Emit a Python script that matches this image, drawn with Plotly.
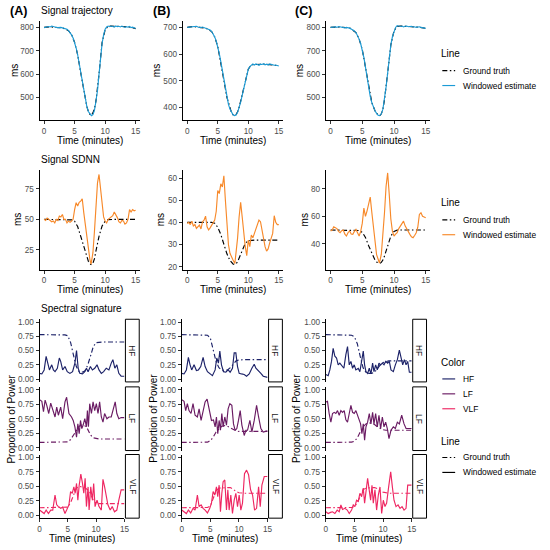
import numpy as np
import plotly.graph_objects as go

# ---------------- data ----------------
TIME_TICKS = [0, 5, 10, 15]
COLUMNS = ["(A)", "(B)", "(C)"]
BANDS = ["HF", "LF", "VLF"]

# Signal trajectory (ms)
T_EST = np.arange(0, 15.001, 0.25)
TRAJ_A_EST = [799, 801, 800, 804, 802, 806, 804, 801, 800, 799, 801, 800, 798, 797, 795, 792,
              786, 778, 768, 755, 736, 712, 683, 648, 606, 566, 527, 493, 462, 440, 428, 422,
              426, 445, 485, 530, 600, 670, 730, 768, 792, 802, 806, 803, 806, 804, 801, 806,
              803, 805, 802, 806, 804, 800, 803, 801, 804, 799, 801, 797, 795]
TRAJ_B_EST = [700, 701, 700, 703, 702, 705, 704, 701, 700, 699, 701, 699, 697, 696, 694, 690,
              684, 676, 664, 648, 628, 602, 572, 538, 502, 468, 438, 412, 394, 381, 373, 370,
              372, 382, 398, 420, 445, 472, 500, 525, 543, 553, 560, 563, 559, 563, 561, 558,
              562, 561, 564, 560, 562, 559, 563, 561, 560, 558, 559, 556, 555]
TRAJ_C_EST = [800, 799, 801, 803, 800, 804, 802, 800, 801, 798, 800, 799, 797, 793, 790, 785,
              778, 765, 750, 730, 705, 672, 630, 585, 540, 505, 478, 458, 443, 432, 424, 422,
              430, 450, 490, 545, 605, 670, 725, 760, 786, 800, 808, 805, 804, 806, 802, 805,
              806, 803, 804, 805, 802, 803, 800, 801, 803, 800, 799, 797, 796]

T_TRUTH = [0, 1, 2, 3, 4, 4.5, 5, 5.5, 6, 6.5, 7, 7.25, 7.5, 7.75, 8, 8.25, 8.5, 9, 9.5, 10,
           10.5, 11, 12, 13, 14, 15]
TRAJ_A_TRUE = [800, 803, 800, 798, 786, 769, 736, 683, 606, 527, 462, 440, 428, 424, 434, 452,
               485, 600, 735, 790, 805, 806, 805, 805, 802, 795]
TRAJ_B_TRUE = [700, 703, 700, 697, 684, 664, 628, 572, 502, 438, 394, 381, 373, 370, 374, 384,
               400, 445, 500, 543, 560, 561, 562, 562, 560, 556]
TRAJ_C_TRUE = [800, 802, 800, 798, 778, 750, 705, 630, 540, 478, 443, 432, 424, 422, 430, 450,
               490, 605, 725, 786, 804, 806, 805, 803, 801, 796]

# Signal SDNN (ms)
SDNN_A_TRUE = [50, 50, 50, 50, 50, 49.5, 48.5, 44, 36, 27, 19, 15.5, 13.3, 12.6, 13.8, 17.5,
               24, 36, 44.5, 48.5, 49.8, 50, 50, 50, 50, 50]
SDNN_B_TRUE = [40, 40, 40, 40, 40, 39.6, 37.8, 34.5, 30, 25.8, 22.8, 21.8, 21.2, 21.0, 21.3,
               22.2, 23.8, 27.5, 30.5, 31.7, 32, 32, 32, 32, 32, 32]
SDNN_C_TRUE = [50, 50, 50, 50, 50, 49.6, 48.3, 44.5, 38.5, 32.5, 28, 26.6, 25.8, 25.6, 26.3, 28,
               31, 39, 45.5, 49, 49.9, 50, 50, 50, 50, 50]

SDNN_A_EST = [(0, 50), (0.25, 49), (0.5, 51), (0.75, 50), (1, 49), (1.25, 48), (1.5, 48.6),
              (1.75, 47), (2, 50), (2.25, 49), (2.5, 52.7), (2.75, 52), (3, 54), (3.25, 50),
              (3.5, 50), (3.75, 47), (4, 48.6), (4.25, 47.5), (4.5, 48.6), (4.75, 50), (5, 58),
              (5.25, 63.7), (5.5, 61), (5.75, 64), (6, 65), (6.25, 67), (6.5, 55.5), (6.75, 45),
              (7, 33.5), (7.25, 24), (7.5, 17), (7.7, 13), (8, 22.5), (8.25, 40), (8.5, 61),
              (8.75, 80), (9, 87), (9.25, 74), (9.5, 61), (9.75, 52), (10, 48.6), (10.25, 47),
              (10.5, 50), (10.75, 51), (11, 51.4), (11.25, 53), (11.5, 56), (11.75, 54),
              (12, 51.4), (12.25, 48), (12.5, 47), (12.75, 49), (13, 48.6), (13.25, 46),
              (13.5, 47), (13.75, 50), (14, 58), (14.25, 56), (14.5, 58), (14.75, 57), (15, 57.5)]
SDNN_B_EST = [(0, 39.5), (0.25, 40), (0.5, 39), (0.75, 40.5), (1, 38.4), (1.25, 39), (1.5, 37.3),
              (1.75, 38), (2, 38.8), (2.25, 37), (2.5, 40.3), (2.75, 41), (3, 42.8), (3.25, 38),
              (3.5, 36.6), (3.75, 37.5), (4, 38.8), (4.25, 40), (4.5, 41), (4.75, 45), (5, 54.4),
              (5.25, 53), (5.5, 57.4), (5.75, 56), (6, 61), (6.25, 50), (6.5, 38), (6.75, 30),
              (7, 26), (7.25, 24), (7.5, 23), (7.8, 21.4), (8, 26), (8.25, 33), (8.5, 42.5),
              (8.75, 49), (9, 42.5), (9.25, 35), (9.5, 29), (9.75, 25), (10, 32), (10.25, 29),
              (10.5, 34.3), (10.75, 33), (11, 35), (11.25, 37), (11.5, 39.5), (11.75, 41),
              (12, 40.3), (12.25, 36), (12.5, 32), (12.75, 29), (13, 27), (13.25, 28),
              (13.5, 30.6), (13.75, 33), (14, 35), (14.25, 43), (14.5, 40), (14.75, 39), (15, 39)]
SDNN_C_EST = [(0, 49.3), (0.25, 50), (0.5, 52.4), (0.75, 51.5), (1, 51), (1.25, 49), (1.5, 48),
              (1.75, 49.5), (2, 50), (2.25, 47), (2.5, 45.6), (2.75, 48), (3, 49.3), (3.25, 47),
              (3.5, 46.8), (3.75, 49), (4, 50.5), (4.25, 48), (4.5, 45.6), (4.75, 49), (5, 55),
              (5.25, 66), (5.5, 60), (5.75, 64), (6, 68.6), (6.25, 74), (6.5, 63), (6.75, 52),
              (7, 38), (7.25, 32), (7.5, 28.6), (7.7, 25.8), (8, 32.3), (8.25, 45), (8.5, 62.6),
              (8.75, 82), (9, 91.7), (9.25, 76), (9.5, 58), (9.75, 49), (10, 45.6), (10.25, 47),
              (10.5, 48), (10.75, 51), (11, 53), (11.25, 55), (11.5, 56.5), (11.75, 53),
              (12, 50.5), (12.25, 48), (12.5, 46.8), (12.75, 45), (13, 44.4), (13.25, 46),
              (13.5, 48), (13.75, 52), (14, 61.4), (14.25, 62.6), (14.5, 60), (14.75, 59.5), (15, 59)]

# Spectral signature (proportion of power)
T_SPEC_TRUE = [0, 1, 2, 3, 4, 4.5, 5, 5.5, 6, 6.5, 7, 7.5, 8, 8.5, 9, 9.5, 10, 10.5, 11, 12, 13, 14, 15]
HF_A_TRUE = [0.78, 0.78, 0.78, 0.78, 0.78, 0.775, 0.76, 0.64, 0.42, 0.22, 0.13, 0.12, 0.14, 0.24,
             0.40, 0.57, 0.64, 0.65, 0.65, 0.65, 0.65, 0.65, 0.65]
LF_A_TRUE = [0.09, 0.09, 0.09, 0.09, 0.09, 0.095, 0.10, 0.14, 0.22, 0.31, 0.37, 0.39, 0.38, 0.32,
             0.22, 0.17, 0.155, 0.15, 0.15, 0.15, 0.15, 0.15, 0.15]
VLF_A_TRUE = [0.13, 0.13, 0.13, 0.13, 0.13, 0.13, 0.14, 0.22, 0.36, 0.47, 0.50, 0.49, 0.48, 0.44,
              0.38, 0.26, 0.205, 0.20, 0.20, 0.20, 0.20, 0.20, 0.20]
HF_B_TRUE = [0.78, 0.78, 0.78, 0.78, 0.78, 0.77, 0.72, 0.52, 0.31, 0.20, 0.16, 0.15, 0.16, 0.20,
             0.27, 0.32, 0.335, 0.34, 0.34, 0.34, 0.34, 0.34, 0.34]
LF_B_TRUE = [0.09, 0.09, 0.09, 0.09, 0.09, 0.095, 0.12, 0.18, 0.27, 0.33, 0.37, 0.38, 0.37, 0.34,
             0.31, 0.29, 0.28, 0.28, 0.28, 0.28, 0.28, 0.28, 0.28]
VLF_B_TRUE = [0.13, 0.13, 0.13, 0.13, 0.13, 0.135, 0.16, 0.30, 0.42, 0.47, 0.47, 0.47, 0.48, 0.48,
              0.45, 0.41, 0.39, 0.38, 0.38, 0.38, 0.38, 0.38, 0.38]
HF_C_TRUE = [0.78, 0.78, 0.78, 0.78, 0.78, 0.77, 0.74, 0.62, 0.40, 0.20, 0.12, 0.10, 0.10, 0.12,
             0.18, 0.25, 0.29, 0.31, 0.32, 0.32, 0.32, 0.32, 0.32]
LF_C_TRUE = [0.09, 0.09, 0.09, 0.09, 0.09, 0.095, 0.11, 0.17, 0.27, 0.36, 0.41, 0.43, 0.42, 0.40,
             0.36, 0.33, 0.31, 0.30, 0.30, 0.30, 0.30, 0.30, 0.30]
VLF_C_TRUE = [0.13, 0.13, 0.13, 0.13, 0.13, 0.135, 0.15, 0.21, 0.33, 0.44, 0.47, 0.47, 0.48, 0.48,
              0.46, 0.42, 0.40, 0.39, 0.38, 0.38, 0.38, 0.38, 0.38]

HF_A_EST = [(0, 0.10), (0.41, 0.09), (0.82, 0.16), (1.17, 0.40), (1.46, 0.28), (1.75, 0.16),
            (2.16, 0.25), (2.45, 0.16), (2.74, 0.13), (3.15, 0.19), (3.5, 0.37), (3.74, 0.31),
            (4.09, 0.16), (4.5, 0.22), (4.9, 0.13), (5.37, 0.10), (5.84, 0.13), (6.25, 0.28),
            (6.54, 0.50), (6.83, 0.19), (7.12, 0.10), (7.59, 0.09), (8.0, 0.13), (8.29, 0.19),
            (8.58, 0.13), (8.99, 0.22), (9.34, 0.16), (9.75, 0.19), (10.16, 0.25), (10.51, 0.16),
            (10.92, 0.10), (11.33, 0.13), (11.79, 0.19), (12.26, 0.16), (12.67, 0.28),
            (12.96, 0.34), (13.31, 0.19), (13.66, 0.25), (14.01, 0.10), (14.42, 0.05), (15, 0.05)]
LF_A_EST = [(0, 0.83), (0.41, 0.80), (0.7, 0.62), (0.99, 0.82), (1.28, 0.73), (1.63, 0.59),
            (1.98, 0.77), (2.34, 0.64), (2.74, 0.53), (3.04, 0.70), (3.33, 0.56), (3.74, 0.70),
            (4.09, 0.50), (4.5, 0.79), (4.79, 0.87), (5.2, 0.59), (5.66, 0.53), (5.95, 0.47),
            (6.25, 0.36), (6.54, 0.18), (6.77, 0.41), (7.01, 0.24), (7.24, 0.47), (7.47, 0.33),
            (7.71, 0.39), (8.0, 0.50), (8.29, 0.36), (8.46, 0.64), (8.64, 0.36), (8.87, 0.76),
            (9.17, 0.59), (9.46, 0.79), (9.75, 0.64), (10.04, 0.76), (10.33, 0.59), (10.62, 0.79),
            (10.92, 0.53), (11.21, 0.44), (11.5, 0.59), (11.91, 0.50), (12.26, 0.53),
            (12.67, 0.53), (13.08, 0.67), (13.37, 0.79), (13.66, 0.59), (14.01, 0.50),
            (14.42, 0.52), (15, 0.52)]
VLF_A_EST = [(0, 0.09), (0.41, 0.06), (0.82, 0.03), (1.17, 0.09), (1.58, 0.03), (1.98, 0.09),
             (2.34, 0.09), (2.74, 0.35), (3.04, 0.18), (3.33, 0.15), (3.74, 0.12), (4.09, 0.14),
             (4.5, 0.03), (4.79, 0.09), (5.2, 0.18), (5.49, 0.41), (5.78, 0.38), (6.07, 0.49),
             (6.3, 0.38), (6.54, 0.55), (6.77, 0.26), (7.01, 0.52), (7.3, 0.71), (7.59, 0.55),
             (7.82, 0.38), (8.06, 0.64), (8.29, 0.15), (8.58, 0.49), (8.76, 0.09), (9.05, 0.49),
             (9.34, 0.26), (9.57, 0.55), (9.81, 0.15), (10.16, 0.26), (10.51, 0.15), (10.92, 0.09),
             (11.21, 0.62), (11.5, 0.49), (11.79, 0.32), (12.08, 0.18), (12.49, 0.09),
             (12.84, 0.15), (13.25, 0.06), (13.66, 0.09), (14.01, 0.26), (14.42, 0.44), (15, 0.44)]
HF_B_EST = [(0, 0.10), (0.41, 0.09), (0.82, 0.16), (1.17, 0.38), (1.46, 0.25), (1.75, 0.16),
            (2.16, 0.25), (2.57, 0.15), (2.92, 0.16), (3.33, 0.22), (3.74, 0.38), (4.09, 0.22),
            (4.5, 0.13), (4.9, 0.10), (5.37, 0.06), (5.84, 0.16), (6.13, 0.37), (6.42, 0.28),
            (6.66, 0.49), (6.95, 0.25), (7.3, 0.13), (7.71, 0.12), (8.11, 0.16), (8.46, 0.12),
            (8.87, 0.19), (9.17, 0.46), (9.46, 0.46), (9.75, 0.22), (10.04, 0.10), (10.45, 0.09),
            (10.92, 0.08), (11.33, 0.05), (11.79, 0.09), (12.26, 0.19), (12.67, 0.26),
            (12.96, 0.19), (13.43, 0.15), (13.83, 0.10), (14.24, 0.05), (15, 0.03)]
LF_B_EST = [(0, 0.83), (0.41, 0.80), (0.7, 0.64), (0.99, 0.76), (1.28, 0.64), (1.63, 0.59),
            (1.98, 0.76), (2.34, 0.56), (2.74, 0.53), (3.04, 0.67), (3.39, 0.47), (3.74, 0.64),
            (4.09, 0.79), (4.44, 0.84), (4.79, 0.64), (5.2, 0.47), (5.55, 0.48), (5.84, 0.36),
            (6.07, 0.53), (6.3, 0.24), (6.54, 0.47), (6.77, 0.30), (7.01, 0.59), (7.24, 0.36),
            (7.53, 0.53), (7.82, 0.39), (8.11, 0.67), (8.41, 0.76), (8.76, 0.73), (9.05, 0.41),
            (9.34, 0.30), (9.63, 0.33), (9.92, 0.47), (10.22, 0.64), (10.51, 0.39), (10.92, 0.21),
            (11.21, 0.30), (11.5, 0.30), (11.91, 0.47), (12.26, 0.27), (12.67, 0.47),
            (13.08, 0.73), (13.43, 0.53), (13.83, 0.33), (14.24, 0.27), (15, 0.29)]
VLF_B_EST = [(0, 0.09), (0.41, 0.06), (0.82, 0.03), (1.17, 0.09), (1.58, 0.04), (1.98, 0.12),
             (2.34, 0.09), (2.74, 0.35), (3.04, 0.15), (3.39, 0.18), (3.74, 0.12), (4.09, 0.09),
             (4.5, 0.04), (4.9, 0.12), (5.2, 0.21), (5.49, 0.41), (5.78, 0.35), (6.07, 0.49),
             (6.3, 0.32), (6.54, 0.52), (6.77, 0.06), (7.01, 0.38), (7.24, 0.58), (7.53, 0.61),
             (7.82, 0.09), (8.06, 0.44), (8.29, 0.09), (8.58, 0.35), (8.87, 0.03), (9.17, 0.26),
             (9.46, 0.38), (9.75, 0.15), (10.04, 0.35), (10.33, 0.09), (10.62, 0.21),
             (10.97, 0.72), (11.33, 0.78), (11.68, 0.70), (12.03, 0.44), (12.38, 0.35),
             (12.73, 0.09), (13.08, 0.12), (13.43, 0.49), (13.72, 0.15), (14.01, 0.52),
             (14.42, 0.67), (15, 0.67)]
HF_C_EST = [(0, 0.08), (0.41, 0.06), (0.7, 0.16), (0.99, 0.31), (1.28, 0.54), (1.58, 0.40),
            (1.87, 0.37), (2.16, 0.25), (2.45, 0.28), (2.74, 0.25), (3.15, 0.19), (3.5, 0.43),
            (3.79, 0.57), (4.09, 0.25), (4.38, 0.31), (4.67, 0.19), (4.96, 0.25), (5.25, 0.16),
            (5.66, 0.19), (5.95, 0.13), (6.25, 0.31), (6.54, 0.49), (6.77, 0.25), (7.01, 0.13),
            (7.3, 0.10), (7.59, 0.19), (7.88, 0.09), (8.17, 0.28), (8.41, 0.13), (8.7, 0.25),
            (8.99, 0.16), (9.28, 0.28), (9.57, 0.25), (9.87, 0.28), (10.16, 0.25), (10.45, 0.31),
            (10.8, 0.28), (11.09, 0.31), (11.38, 0.16), (11.79, 0.13), (12.14, 0.25),
            (12.49, 0.34), (12.84, 0.51), (13.13, 0.40), (13.43, 0.25), (13.72, 0.34),
            (14.01, 0.25), (14.3, 0.31), (14.59, 0.12), (15, 0.12)]
LF_C_EST = [(0, 0.79), (0.29, 0.80), (0.58, 0.59), (0.88, 0.44), (1.17, 0.59), (1.46, 0.61),
            (1.75, 0.59), (2.04, 0.64), (2.34, 0.56), (2.63, 0.64), (2.92, 0.61), (3.21, 0.64),
            (3.5, 0.48), (3.79, 0.44), (4.09, 0.59), (4.38, 0.73), (4.67, 0.61), (4.96, 0.59),
            (5.25, 0.64), (5.55, 0.56), (5.84, 0.47), (6.07, 0.41), (6.3, 0.24), (6.54, 0.41),
            (6.77, 0.13), (7.01, 0.36), (7.3, 0.44), (7.59, 0.59), (7.88, 0.41), (8.17, 0.61),
            (8.41, 0.41), (8.7, 0.59), (8.99, 0.36), (9.28, 0.56), (9.57, 0.33), (9.87, 0.53),
            (10.16, 0.36), (10.45, 0.44), (10.74, 0.33), (11.03, 0.155), (11.38, 0.30),
            (11.79, 0.36), (12.14, 0.33), (12.49, 0.44), (12.84, 0.41), (13.25, 0.56),
            (13.66, 0.41), (14.01, 0.33), (14.42, 0.33), (15, 0.33)]
VLF_C_EST = [(0, 0.06), (0.41, 0.03), (0.82, 0.05), (1.17, 0.06), (1.58, 0.03), (1.98, 0.09),
             (2.34, 0.06), (2.63, 0.18), (2.92, 0.10), (3.33, 0.12), (3.74, 0.09), (4.09, 0.03),
             (4.5, 0.09), (4.79, 0.18), (5.08, 0.15), (5.37, 0.26), (5.66, 0.24), (5.95, 0.38),
             (6.25, 0.32), (6.54, 0.47), (6.77, 0.21), (7.01, 0.44), (7.3, 0.64), (7.53, 0.47),
             (7.82, 0.26), (8.06, 0.52), (8.29, 0.21), (8.58, 0.44), (8.87, 0.09), (9.17, 0.35),
             (9.46, 0.49), (9.75, 0.03), (10.04, 0.26), (10.33, 0.15), (10.62, 0.21),
             (10.97, 0.49), (11.33, 0.75), (11.62, 0.49), (11.91, 0.26), (12.26, 0.15),
             (12.61, 0.18), (12.96, 0.12), (13.31, 0.15), (13.66, 0.09), (14.01, 0.12),
             (14.3, 0.52), (14.59, 0.52), (15, 0.52)]

SPEC_TICKS = [0, 0.25, 0.5, 0.75, 1.0]
SPEC_TICK_TEXT = ["0.00", "0.25", "0.50", "0.75", "1.00"]

# ---------------- styling ----------------
W = H = 550
FONT = "Liberation Sans"
TICK_FONT = dict(family=FONT, size=8.2, color="#4d4d4d")
TITLE_FONT = dict(family=FONT, size=10, color="black")
BLUE = "#1b9bd6"
ORANGE = "#f7892a"
BAND_COLORS = {"HF": "#1c2268", "LF": "#6a1b63", "VLF": "#ee2762"}
TRUTH_DASH = "5px,2.5px,1.5px,2.5px"


def X(p):
    return p / W


def Y(p):
    return 1 - p / H


fig = go.Figure()
layout = {}
annotations = []
shapes = []
counter = [0]


def add_panel(xpx, ypx, xrange, yrange, yticks, yticktext=None, show_x=True):
    counter[0] += 1
    n = counter[0]
    sx = "" if n == 1 else str(n)
    layout["xaxis" + sx] = dict(
        domain=[X(xpx[0]), X(xpx[1])], range=xrange, anchor="y" + sx,
        showline=show_x, linecolor="black", linewidth=1,
        ticks="outside" if show_x else "", ticklen=3, tickwidth=1, tickcolor="#333333",
        tickvals=TIME_TICKS, showticklabels=show_x, tickfont=TICK_FONT,
        showgrid=False, zeroline=False, fixedrange=True)
    layout["yaxis" + sx] = dict(
        domain=[Y(ypx[1]), Y(ypx[0])], range=yrange, anchor="x" + sx,
        showline=True, linecolor="black", linewidth=1,
        ticks="outside", ticklen=3, tickwidth=1, tickcolor="#333333",
        tickvals=yticks, ticktext=yticktext, tickfont=TICK_FONT,
        showgrid=False, zeroline=False, fixedrange=True)
    return "x" + sx, "y" + sx


def line(xa, ya, x, y, color, dash=None, width=1.15):
    fig.add_trace(go.Scatter(x=list(x), y=list(y), mode="lines", xaxis=xa, yaxis=ya,
                             line=dict(color=color, width=width, dash=dash),
                             showlegend=False, hoverinfo="skip"))


def text(x, y, s, font, xanchor="center", yanchor="middle", angle=0):
    annotations.append(dict(x=X(x), y=Y(y), xref="paper", yref="paper", text=s,
                            showarrow=False, font=font, xanchor=xanchor, yanchor=yanchor,
                            textangle=angle, borderpad=0))


def unzip(pairs):
    return [p[0] for p in pairs], [p[1] for p in pairs]


# column geometry (pixels)
ROW12_X = [(38, 140), (183, 285), (328, 434)]
ROW3_X = [(38, 124), (182, 269), (328, 415)]
STRIP_X = [(125, 139), (270, 284), (416, 430)]
FACET_Y = [(320, 383), (388, 452), (456, 520)]

# ---- Row 1: trajectories ----
traj_true = [TRAJ_A_TRUE, TRAJ_B_TRUE, TRAJ_C_TRUE]
traj_est = [TRAJ_A_EST, TRAJ_B_EST, TRAJ_C_EST]
traj_range = [[402, 828], [352, 724], [402, 828]]
traj_ticks = [[500, 600, 700, 800], [400, 500, 600, 700], [500, 600, 700, 800]]
for i in range(3):
    xa, ya = add_panel(ROW12_X[i], (20, 120), [-0.75, 15.75], traj_range[i], traj_ticks[i])
    line(xa, ya, T_TRUTH, traj_true[i], "black", TRUTH_DASH)
    line(xa, ya, T_EST, traj_est[i], BLUE)

# ---- Row 2: SDNN ----
sdnn_true = [SDNN_A_TRUE, SDNN_B_TRUE, SDNN_C_TRUE]
sdnn_est = [SDNN_A_EST, SDNN_B_EST, SDNN_C_EST]
sdnn_range = [[8.6, 90.6], [18.7, 63.6], [21.1, 93.8]]
sdnn_ticks = [[25, 50, 75], [20, 30, 40, 50, 60], [40, 60, 80]]
for i in range(3):
    xa, ya = add_panel(ROW12_X[i], (170, 270), [-0.75, 15.75], sdnn_range[i], sdnn_ticks[i])
    line(xa, ya, T_TRUTH, sdnn_true[i], "black", TRUTH_DASH)
    tx, vy = unzip(sdnn_est[i])
    line(xa, ya, tx, vy, ORANGE)

# ---- Row 3: spectral ----
spec_true = [
    {"HF": HF_A_TRUE, "LF": LF_A_TRUE, "VLF": VLF_A_TRUE},
    {"HF": HF_B_TRUE, "LF": LF_B_TRUE, "VLF": VLF_B_TRUE},
    {"HF": HF_C_TRUE, "LF": LF_C_TRUE, "VLF": VLF_C_TRUE},
]
spec_est = [
    {"HF": HF_A_EST, "LF": LF_A_EST, "VLF": VLF_A_EST},
    {"HF": HF_B_EST, "LF": LF_B_EST, "VLF": VLF_B_EST},
    {"HF": HF_C_EST, "LF": LF_C_EST, "VLF": VLF_C_EST},
]
for i in range(3):
    for j, band in enumerate(BANDS):
        xa, ya = add_panel(ROW3_X[i], FACET_Y[j], [0, 15], [-0.05, 1.05], SPEC_TICKS,
                           SPEC_TICK_TEXT, show_x=(band == "VLF"))
        line(xa, ya, T_SPEC_TRUE, spec_true[i][band], BAND_COLORS[band], TRUTH_DASH)
        tx, vy = unzip(spec_est[i][band])
        line(xa, ya, tx, vy, BAND_COLORS[band])
        # facet strip
        shapes.append(dict(type="rect", xref="paper", yref="paper",
                           x0=X(STRIP_X[i][0]), x1=X(STRIP_X[i][1]),
                           y0=Y(FACET_Y[j][1]), y1=Y(FACET_Y[j][0]),
                           line=dict(color="black", width=1), fillcolor="white"))
        text((STRIP_X[i][0] + STRIP_X[i][1]) / 2, (FACET_Y[j][0] + FACET_Y[j][1]) / 2, band,
             dict(family=FONT, size=8.4, color="#1a1a1a"), angle=90)

# ---- texts ----
BOLD = dict(family=FONT, size=12.5, color="black")
text(7, 10.5, "<b>(A)</b>", BOLD, xanchor="left")
text(152, 10.5, "<b>(B)</b>", BOLD, xanchor="left")
text(296, 10.5, "<b>(C)</b>", BOLD, xanchor="left")
text(38, 9.5, "Signal trajectory", TITLE_FONT, xanchor="left")
text(38, 159, "Signal SDNN", TITLE_FONT, xanchor="left")
text(38, 309, "Spectral signature", TITLE_FONT, xanchor="left")

ms_x_row1 = [12.5, 156.5, 301.5]
ms_x_row2 = [16.5, 160.5, 306.5]
for i in range(3):
    cx = (ROW12_X[i][0] + ROW12_X[i][1]) / 2
    text(cx, 140.5, "Time (minutes)", TITLE_FONT)
    text(cx, 290.5, "Time (minutes)", TITLE_FONT)
    text(ms_x_row1[i], 70, "ms", TITLE_FONT, angle=-90)
    text(ms_x_row2[i], 220, "ms", TITLE_FONT, angle=-90)
    cx3 = (ROW3_X[i][0] + ROW3_X[i][1]) / 2
    text(cx3, 540.5, "Time (minutes)", TITLE_FONT)
    text([10, 154, 299][i], 420, "Proportion of Power", TITLE_FONT, angle=-90)

# ---- legends (manual, ggplot style) ----
LEG_FONT = dict(family=FONT, size=8.4, color="black")
KEY_X0, KEY_X1, LAB_X = 446, 459, 466


def key(y, color, dash=None):
    shapes.append(dict(type="line", xref="paper", yref="paper", x0=X(KEY_X0), x1=X(KEY_X1),
                       y0=Y(y), y1=Y(y), line=dict(color=color, width=1.15, dash=dash)))


def legend_block(title_y, title, items):
    text(444, title_y, title, TITLE_FONT, xanchor="left")
    for (y, label, color, dash) in items:
        key(y, color, dash)
        text(LAB_X, y, label, LEG_FONT, xanchor="left")


legend_block(53, "Line", [(70, "Ground truth", "black", TRUTH_DASH),
                          (85, "Windowed estimate", BLUE, None)])
legend_block(203, "Line", [(220, "Ground truth", "black", TRUTH_DASH),
                           (235, "Windowed estimate", ORANGE, None)])
legend_block(363, "Color", [(380, "HF", BAND_COLORS["HF"], None),
                            (395, "LF", BAND_COLORS["LF"], None),
                            (410, "VLF", BAND_COLORS["VLF"], None)])
legend_block(443, "Line", [(459, "Ground truth", "black", TRUTH_DASH),
                           (474, "Windowed estimate", "black", None)])

layout.update(dict(width=W, height=H, margin=dict(l=0, r=0, t=0, b=0),
                   paper_bgcolor="white", plot_bgcolor="white", showlegend=False,
                   annotations=annotations, shapes=shapes,
                   font=dict(family=FONT)))
fig.update_layout(**layout)
fig.write_html("out.html", config={"displayModeBar": False},
               post_script="document.body.style.margin='0px';document.body.style.padding='0px';")
